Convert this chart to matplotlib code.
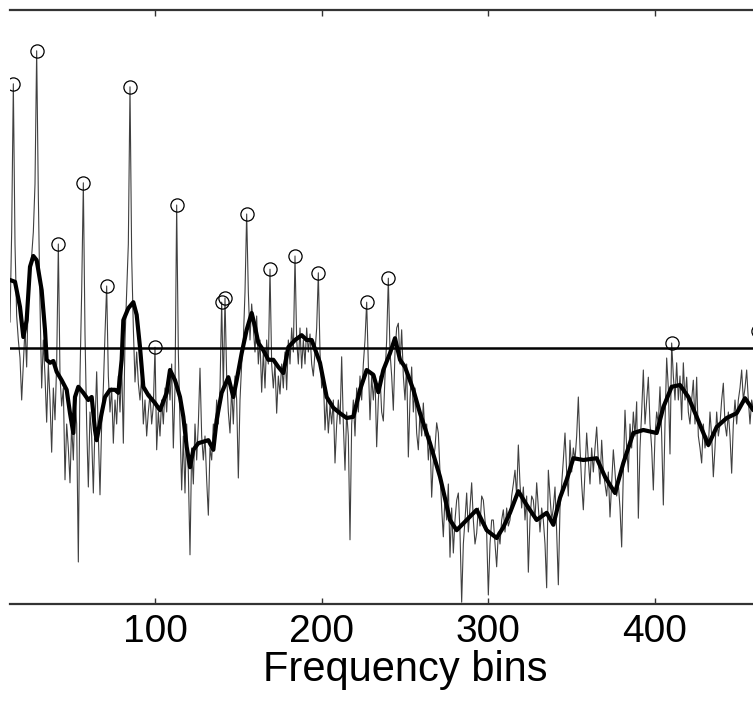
import numpy as np
import matplotlib
matplotlib.use("Agg")
import matplotlib.pyplot as plt

# raw spectrum, one value per frequency bin (bins 13..462)
first_bin = 13
raw = [
    47, 62, 86.7, 60, 48, 44, 41, 34, 40, 46, 39.5, 52, 56, 58, 62, 70, 92.2, 68, 50, 36,
    44, 38, 30.3, 40, 34, 25.3, 36, 30.7, 40, 60, 38, 33, 36, 20.7, 30, 26, 20.2, 30, 24, 34,
    30, 7, 38, 52, 70.2, 45, 30, 19.5, 32, 28, 18.5, 30, 38.7, 28, 18.2, 30, 36, 45, 53, 38,
    32, 36, 26.8, 34, 30, 38, 32, 40, 26.8, 44, 52, 60, 86.2, 58, 46, 37, 42, 36.8, 34, 38,
    30, 34, 28, 32, 35, 30, 33, 42.8, 25.7, 32, 28, 34, 30, 36, 32, 38, 34, 40, 26, 36,
    66.5, 42, 30, 19, 28, 18.5, 30, 22, 8.2, 26, 20, 30, 24, 30, 39.3, 28, 24, 28, 20.7, 14.8,
    26, 24, 30, 28, 34, 30, 36, 50.3, 36, 51, 38, 32, 28.5, 36, 30, 38, 34, 21, 34, 40,
    44, 52, 65, 52, 44, 50, 46, 42, 48, 40, 44, 35.3, 42, 36, 44, 40, 55.8, 40, 36, 40,
    31.8, 38, 35, 40, 36, 42, 35.7, 44, 40, 46, 42, 58, 44, 40, 46, 39.3, 44, 40, 46, 42,
    45, 40, 38, 42, 46, 55.2, 42, 36, 38, 29, 34, 28.5, 33, 30, 34, 23.5, 30, 34, 30, 41.2,
    30, 22.3, 32, 28, 10.7, 30, 34, 28, 36, 32, 38, 34, 40, 44, 50.3, 40, 30.7, 38, 34, 38,
    26.2, 34, 38, 32, 30.5, 38, 44, 54.3, 42, 38, 32.3, 42, 46, 46.8, 40, 45.7, 38, 34, 40, 24.5,
    34, 39.5, 32, 36, 28.5, 25.7, 32, 28, 33.5, 28, 30, 24, 28, 17.8, 24, 26, 30.2, 28.5, 22, 16,
    11.2, 18, 14, 20, 7.8, 16, 8.5, 14, 17.3, 18.5, 12, 0.3, 10, 14, 18.5, 12, 16, 20.2, 14, 10,
    11.8, 16, 13, 18, 17.3, 14, 11.8, 1.5, 10, 14, 14, 10, 6.2, 12, 10, 14, 15.7, 12, 16, 13,
    14, 18, 20, 22.3, 18, 26.5, 20, 16, 19.5, 14, 18, 5.3, 14, 18, 17.3, 14, 20.2, 16, 12, 16,
    14, 10, 2.7, 22.3, 18, 14, 16, 19.5, 12, 3.2, 16, 20, 24, 28.5, 22, 18, 27.3, 22, 26, 24,
    28, 34.5, 26, 20, 15.7, 22, 28.5, 24, 20, 26, 22, 26, 29.5, 24, 20, 27.3, 22, 20, 18, 22,
    14.5, 20, 25.7, 22, 18, 20, 16, 9.5, 22, 32.3, 26, 22, 30, 26, 32, 28, 33.7, 14.3, 26, 32,
    39, 30, 34, 37.8, 30, 26, 19, 28, 32, 30, 36.2, 28, 16.5, 30, 41, 36, 25, 43.5, 38, 34,
    40.2, 34, 38, 30.7, 40.2, 34, 37.8, 32, 30, 34, 37.3, 30, 37.8, 28, 26, 23.5, 30, 26, 28, 26.2,
    32, 28, 21.2, 26, 32, 28, 30, 34, 36.8, 30, 28, 32, 28, 21.8, 30, 34, 30, 34, 36, 39,
    34, 36, 39, 34, 30, 34, 32.5, 36, 40, 45.5,
]

# smoothed envelope
smooth_bins = [13, 16, 19, 21, 23, 25, 27, 29, 32, 34, 35, 37, 39, 41, 44, 47, 49, 51, 52, 54,
               57, 60, 62, 64, 65, 68, 70, 73, 76, 78, 80, 81, 84, 87, 89, 91, 93, 96, 100, 103,
               107, 109, 112, 115, 117, 119, 121, 123, 126, 132, 135, 137, 140, 144, 147, 149, 152, 155, 158, 160,
               162, 165, 168, 171, 174, 177, 180, 184, 188, 191, 194, 199, 203, 207, 211, 215, 219, 223, 227, 231,
               234, 237, 241, 244, 247, 250, 255, 259, 265, 271, 277, 281, 287, 293, 299, 305, 309, 313, 318, 323,
               329, 335, 339, 343, 347, 351, 357, 365, 370, 376, 381, 387, 393, 401, 405, 410, 415, 420, 425, 432,
               437, 443, 449, 454, 459, 462]
smooth_vals = [54.0, 53.7, 49.5, 44.5, 47.3, 56.2, 58.0, 57.3, 52.3, 45.7, 40.7, 40.2, 40.5, 38.7, 37.3, 35.7, 31.8, 28.5, 34.5, 36.2,
               35.2, 34.0, 34.5, 29.0, 27.3, 31.8, 34.5, 35.7, 35.7, 35.2, 40.7, 47.3, 49.3, 50.3, 48.2, 42.8, 36.2, 34.8, 33.5, 32.3,
               35.2, 39.0, 37.3, 34.5, 31.2, 26.2, 22.8, 25.7, 26.8, 27.3, 25.7, 30.7, 35.2, 37.8, 34.5, 37.3, 41.8, 45.7, 48.5, 46.2,
               43.5, 42.3, 40.7, 40.7, 39.5, 38.5, 42.8, 44.0, 44.8, 44.0, 44.0, 40.2, 34.5, 32.7, 31.8, 31.0, 31.2, 35.7, 39.0, 38.2,
               35.3, 39.0, 41.8, 44.3, 40.7, 39.5, 35.7, 31.8, 26.8, 21.2, 14.0, 12.3, 14.0, 15.7, 12.3, 11.0, 12.8, 15.2, 18.8, 16.5,
               14.0, 15.2, 13.2, 17.7, 20.7, 24.3, 24.0, 24.3, 21.2, 18.5, 23.5, 28.5, 29.0, 28.5, 32.8, 36.2, 36.5, 34.5, 31.2, 26.5,
               29.5, 31.0, 31.8, 34.3, 32.3, 33.5]

threshold = 42.7
peak_bins = [15, 29, 42, 57, 71, 85, 100, 113, 140, 142, 155, 169, 184, 198, 227, 240, 410, 462]

bins = np.arange(first_bin, first_bin + len(raw))
raw = np.array(raw)
peak_vals = raw[np.array(peak_bins) - first_bin]

plt.rcParams['font.family'] = ['Liberation Sans', 'DejaVu Sans']

fig = plt.figure(figsize=(7.53, 7.06), dpi=100)
W, H = 753, 706
ax = fig.add_axes([10 / W, 1 - 604 / H, 790 / W, 594 / H])

ax.plot(bins, raw, color='#404040', lw=0.8)
ax.plot(smooth_bins, smooth_vals, color='black', lw=3.0)
ax.axhline(threshold, color='black', lw=1.8)
ax.plot(peak_bins, peak_vals, 'o', mfc='none', mec='black', ms=9.5, mew=0.9)

ax.set_xlim(13, 487)
ax.set_ylim(0, 99)
ax.set_xticks([100, 200, 300, 400])
ax.set_yticks([])
ax.tick_params(axis='x', direction='in', length=4.5, width=1, top=True,
               labelsize=28, pad=7, color='#333333')
for side in ['left', 'right']:
    ax.spines[side].set_visible(False)
for side in ['top', 'bottom']:
    ax.spines[side].set_linewidth(1.6)
    ax.spines[side].set_color('#333333')

ax.set_xlabel('Frequency bins', fontsize=30, labelpad=0)

fig.savefig('out.png', dpi=100)
